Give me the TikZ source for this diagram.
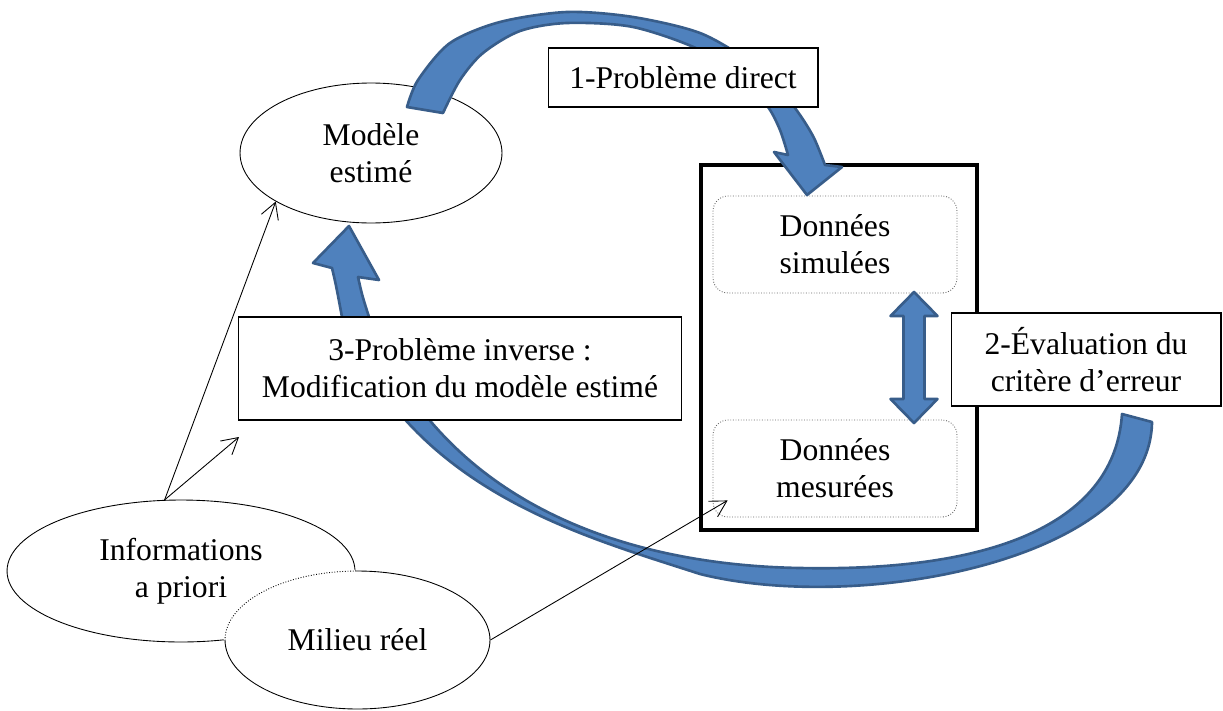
\documentclass[tikz,border=0pt]{standalone}
\usepackage{fontspec}
\setmainfont{Liberation Serif}
\usepackage{tikz}
\usetikzlibrary{shapes.geometric, arrows.meta, positioning}

\definecolor{officeblue}{HTML}{4F81BD}
\definecolor{officeborder}{HTML}{385D8A}

\begin{document}
\begin{tikzpicture}[x=0.02cm, y=-0.02cm, every node/.style={align=center, font=\fontsize{18}{21}\selectfont}]

\tikzstyle{oval}=[ellipse, draw, line width=0.5pt, fill=white, inner sep=0pt]
\tikzstyle{textbox}=[rectangle, draw, line width=0.6pt, fill=white, inner sep=0pt, minimum width=5.4cm]
\tikzstyle{databox}=[rectangle, rounded corners=0.3cm, draw=gray!80!black, densely dotted, line width=0.5pt, inner sep=0pt, minimum width=4.88cm, minimum height=1.94cm]
\tikzstyle{bluearrow}=[fill=officeblue, draw=officeborder, line width=1.5pt, line join=round]
\tikzstyle{thinarrow}=[-{Straight Barb[length=3.2mm,width=3.6mm]}, line width=0.5pt]

\useasboundingbox (0,0) rectangle (1223,710);

% ellipses
\node (model) [oval, minimum width=5.24cm, minimum height=2.8cm] at (371,153) {Modèle\\estimé};
\node (info) [oval, minimum width=6.96cm, minimum height=2.84cm] at (181,571) {Informations\\a priori};
\node (milieu) [oval, minimum width=5.3cm, minimum height=2.76cm] at (357.5,640) {Milieu réel};
\begin{scope}
\clip (info.center) ellipse [x radius=3.48cm, y radius=1.42cm];
\draw [white, line width=1.5pt] (milieu.center) ellipse [x radius=2.65cm, y radius=1.38cm];
\draw [line width=0.5pt, densely dotted] (milieu.center) ellipse [x radius=2.65cm, y radius=1.38cm];
\end{scope}

% data
\node (frame) [draw, line width=2pt, inner sep=0pt, minimum width=5.52cm, minimum height=7.3cm] at (839,347.5) {};
\node (simul) [databox] at (835,244.5) {Données\\simulées};
\node (mesure) [databox] at (835,468.5) {Données\\mesurées};

% 1 : direct
\filldraw [bluearrow] plot [smooth] coordinates {(407,107) (418,80) (450,43) (500,22) (567,12) (633,17) (700,33) (750,62) (782,92) (800,115) (814,138) (825,165)}
  -- (842,167) -- (807,195) -- (774,152) -- (788,155)
  -- plot [smooth] coordinates {(788,155) (780,130) (768,107) (745,82) (700,50) (633,27) (567,23) (520,31) (483,53) (460,80) (443,113)} -- cycle;

% 2 : comparaison
\filldraw [bluearrow] (914,292) -- (937.5,316) -- (924.5,316) -- (924.5,399) -- (937.5,399) -- (914,423)
  -- (890.5,399) -- (903.5,399) -- (903.5,316) -- (890.5,316) -- cycle;

% 3 : inverse
\filldraw [bluearrow] (349,226) -- (313,263) -- (332,268) .. controls (336,285) .. (342,317)
  .. controls (410,490) and (580,535) .. (700,574)
  .. controls (860,614) and (1150,560) .. (1152,422) -- (1122,414)
  .. controls (1115,520) and (1000,572) .. (800,568)
  .. controls (620,565) and (440,500) .. (369,317)
  .. controls (362,295) .. (358,277) -- (379,280) -- cycle;

% labels
\node (direct) [textbox, minimum height=1.18cm] at (683,77.5) {1-Problème direct};
\node (eval) [textbox, minimum height=1.86cm] at (1086,359.5) {2-Évaluation du\\critère d’erreur};
\node (inverse) [textbox, minimum width=8.88cm, minimum height=2.06cm] at (460,368.5) {3-Problème inverse :\\Modification du modèle estimé};

% a priori
\coordinate (free) at (239,437);
\draw [thinarrow] (info.103) -- (model.207);
\draw [thinarrow] (info.103) -- (free);
\draw [thinarrow] (milieu.east) -- ([xshift=0.3cm,yshift=0.34cm]mesure.south west);

\end{tikzpicture}
\end{document}
